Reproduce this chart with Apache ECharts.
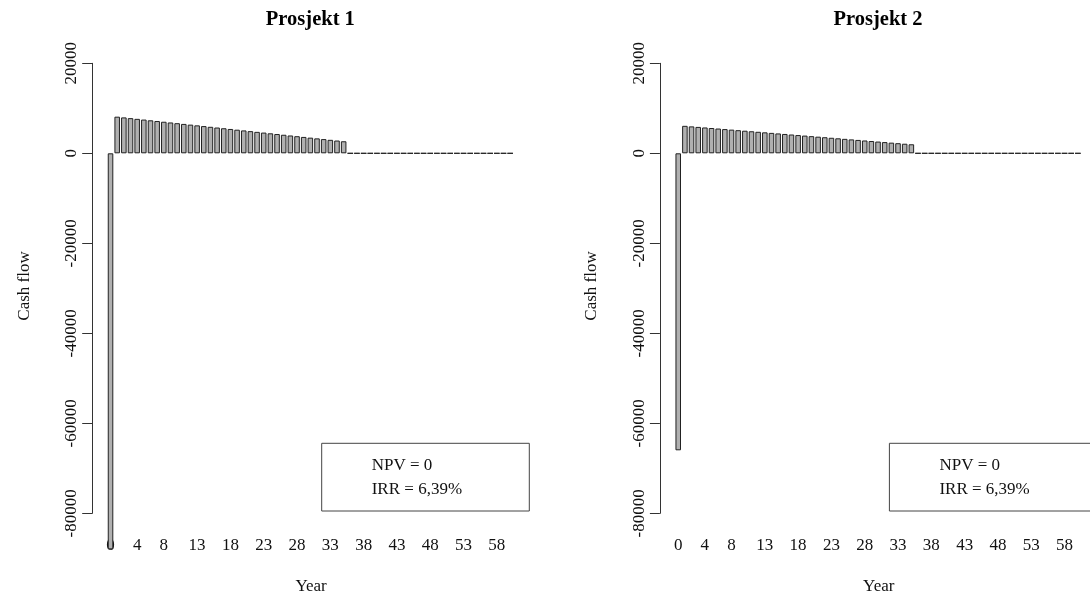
<!DOCTYPE html>
<html>
<head>
<meta charset="utf-8">
<script src="https://cdn.jsdelivr.net/npm/echarts@6/dist/echarts.min.js"></script>
<style>
html,body{margin:0;padding:0;background:#fff;}
#chart{width:1090px;height:596px;}
</style>
</head>
<body>
<div id="chart"></div>
<script>
// ---- data ----
var years = ['0','1','2','3','4','5','6','7','8','9','10','11','12','13','14','15','16','17','18','19','20',
  '21','22','23','24','25','26','27','28','29','30','31','32','33','34','35','36','37','38','39','40',
  '41','42','43','44','45','46','47','48','49','50','51','52','53','54','55','56','57','58','59','60'];
var shownYearLabels = ['0','4','8','13','18','23','28','33','38','43','48','53','58'];
var prosjekt1 = [-88000, 8137, 7977, 7816, 7656, 7495, 7334, 7174, 7013, 6852, 6692, 6531, 6370, 6210, 6049,
  5888, 5728, 5567, 5407, 5246, 5085, 4925, 4764, 4603, 4443, 4282, 4121, 3961, 3800, 3639, 3479, 3318,
  3158, 2997, 2836, 2675,
  0,0,0,0,0,0,0,0,0,0,0,0,0,0,0,0,0,0,0,0,0,0,0,0,0];
var prosjekt2 = [-66000, 6103, 5983, 5862, 5742, 5621, 5501, 5380, 5260, 5139, 5019, 4898, 4778, 4657, 4537,
  4416, 4296, 4175, 4055, 3934, 3813, 3693, 3572, 3452, 3331, 3211, 3090, 2970, 2849, 2729, 2608, 2488,
  2367, 2247, 2126, 2006,
  0,0,0,0,0,0,0,0,0,0,0,0,0,0,0,0,0,0,0,0,0,0,0,0,0];
var yTicks = {min: -80000, max: 20000, interval: 20000};
var titles = ['Prosjekt 1', 'Prosjekt 2'];
var legendLines = ['NPV = 0', 'IRR = 6,39%'];
var xName = 'Year';
var yName = 'Cash flow';

// ---- layout ----
var FONT = '"Liberation Serif", "DejaVu Serif", serif';
var panels = [{left: 107.2}, {left: 674.9}];
var gridTop = 63.3, gridH = 450, gridW = 406.3;
var chart = echarts.init(document.getElementById('chart'));

var grids = [], xAxes = [], yAxes = [], series = [], graphics = [];
[prosjekt1, prosjekt2].forEach(function (vals, i) {
  var L = panels[i].left;
  grids.push({left: L, top: gridTop, width: gridW, height: gridH, containLabel: false});
  xAxes.push({
    type: 'category', gridIndex: i, data: years,
    axisLine: {show: false, onZero: false}, axisTick: {show: false},
    axisLabel: {
      interval: function (idx, val) { return shownYearLabels.indexOf(val) >= 0; },
      fontFamily: FONT, fontSize: 17, color: '#111', margin: 24
    },
    splitLine: {show: false}
  });
  yAxes.push({
    type: 'value', gridIndex: i, min: yTicks.min, max: yTicks.max, interval: yTicks.interval,
    offset: 15,
    axisLine: {show: true, lineStyle: {color: '#333', width: 1}},
    axisTick: {show: true, length: 10, lineStyle: {color: '#333', width: 1}},
    axisLabel: {rotate: 90, fontFamily: FONT, fontSize: 17, color: '#111', margin: 12,
      formatter: function (v) { return String(v); }},
    splitLine: {show: false}
  });
  series.push({
    type: 'bar', xAxisIndex: i, yAxisIndex: i, data: vals, clip: false,
    barCategoryGap: '16.7%',
    itemStyle: {color: '#b0b0b0', borderColor: '#222', borderWidth: 1},
    emphasis: {disabled: true}, animation: false, z: 1
  });
  var cx = L + gridW / 2;
  graphics.push({type: 'text', x: cx, y: 20, style: {text: titles[i], font: 'bold 20.5px ' + FONT,
    fill: '#000', textAlign: 'center', textVerticalAlign: 'middle'}});
  graphics.push({type: 'text', x: cx + 0.7, y: 587, style: {text: xName, font: '17px ' + FONT,
    fill: '#111', textAlign: 'center', textVerticalAlign: 'middle'}});
  graphics.push({type: 'text', x: L - 83, y: 286, rotation: Math.PI / 2, style: {text: yName, font: '17px ' + FONT,
    fill: '#111', textAlign: 'center', textVerticalAlign: 'middle'}});
  var bx = L + 214.5;
  graphics.push({type: 'rect', shape: {x: bx, y: 443.3, width: 207.6, height: 67.7},
    style: {fill: 'none', stroke: '#444', lineWidth: 1}});
  graphics.push({type: 'text', x: bx + 50, y: 466, style: {text: legendLines[0], font: '17px ' + FONT,
    fill: '#111', textAlign: 'left', textVerticalAlign: 'middle'}});
  graphics.push({type: 'text', x: bx + 50, y: 490, style: {text: legendLines[1], font: '17px ' + FONT,
    fill: '#111', textAlign: 'left', textVerticalAlign: 'middle'}});
});

chart.setOption({
  animation: false,
  backgroundColor: '#fff',
  grid: grids, xAxis: xAxes, yAxis: yAxes, series: series,
  graphic: graphics
});
</script>
</body>
</html>
